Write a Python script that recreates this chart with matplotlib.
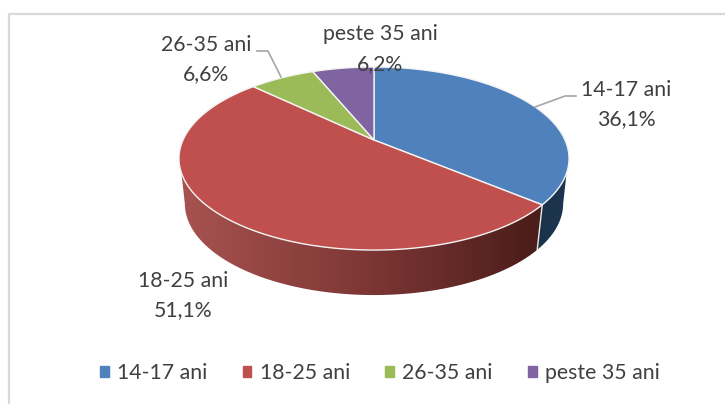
import matplotlib
matplotlib.use('Agg')
import matplotlib.pyplot as plt
import matplotlib.patches as mpatches
from matplotlib.colors import LinearSegmentedColormap
import numpy as np

categories = ['14-17 ani', '18-25 ani', '26-35 ani', 'peste 35 ani']
values = [36.1, 51.1, 6.6, 6.2]
value_labels = ['36,1%', '51,1%', '6,6%', '6,2%']
colors = ['#4F81BD', '#C0504D', '#9BBB59', '#8064A2']

plt.rcParams['font.family'] = ['Lato', 'DejaVu Sans']
TEXT = '#404040'
LEADER = '#A6A6A6'
FS = 15.3

# perspective of the disc, in pixels
CX, CY = 374, 140
W, H, K = 191, 87.8, 0.2022
DEPTH = 45
SHRINK = 0.97


def top_point(theta):
    u, v = np.sin(theta), np.cos(theta)
    d = 1 + K * v
    return CX + W * u / d, CY - H * v / d


def bottom_point(theta):
    x, y = top_point(theta)
    return CX + (x - CX) * SHRINK, y + DEPTH


fig = plt.figure(figsize=(7.25, 4.04), dpi=100)
ax = fig.add_axes([0, 0, 1, 1])
ax.set_xlim(0, 725)
ax.set_ylim(404, 0)
ax.axis('off')

# chart frame, right and bottom are cut off in the source
ax.plot([9, 9, 725], [404, 14, 14], color='#D9D9D9', lw=1.6, zorder=1)

edges = np.cumsum([0] + values) / sum(values) * 2 * np.pi
# where the wall leaves the top rim and where the lower rim is widest
RIM_R, RIM_L = np.radians(110.4), np.radians(249.6)
TAN_R, TAN_L = np.radians(101.7), np.radians(258.3)


def wall(a0, a1, b0, b1, cmap_colors, x0, x1):
    xt, yt = top_point(np.linspace(a0, a1, 200))
    xb, yb = bottom_point(np.linspace(b0, b1, 200))
    pts = np.vstack([np.column_stack([xt, yt]), np.column_stack([xb, yb])[::-1]])
    poly = mpatches.Polygon(pts, closed=True, fc='none', ec='none')
    ax.add_patch(poly)
    cmap = LinearSegmentedColormap.from_list('w', cmap_colors)
    im = ax.imshow(np.linspace(0, 1, 256)[None, :], cmap=cmap, extent=[x0, x1, 300, 150],
                   aspect='auto', zorder=2)
    im.set_clip_path(poly)


# side walls, only the visible front part
wall(RIM_R, edges[1], TAN_R, edges[1], ['#1B3149', '#1D3652'], 535, 570)
wall(edges[1], RIM_L, edges[1], TAN_L, ['#A85350', '#7F3836', '#4A1C19'], 178, 542)
ax.set_xlim(0, 725)
ax.set_ylim(404, 0)
ax.plot(*np.array([top_point(edges[1]), bottom_point(edges[1])]).T, color='#E8E8E8', lw=1, zorder=3)

# top of the pie
for i in range(len(values)):
    xs, ys = top_point(np.linspace(edges[i], edges[i + 1], 120))
    ax.fill(np.r_[CX, xs], np.r_[CY, ys], fc=colors[i], ec='#F4F4F4', lw=1, zorder=4)

# data labels
label_xy = [(626, 90, 119), (183, 281, 310), (206, 45, 74), (380, 34, 64)]
for name, val, (x, y1, y2) in zip(categories, value_labels, label_xy):
    ax.text(x, y1, name, ha='center', va='center', fontsize=FS, color=TEXT, zorder=6)
    ax.text(x, y2, val, ha='center', va='center', fontsize=FS, color=TEXT, zorder=6)

# leader lines
ax.plot([535, 565, 576], [107, 96, 96], color=LEADER, lw=1.2, zorder=5)
ax.plot([257, 268, 281], [51, 51, 77], color=LEADER, lw=1.2, zorder=5)

handles = [mpatches.Patch(color=c, label=n) for c, n in zip(colors, categories)]
ax.legend(handles=handles, loc='center', bbox_to_anchor=(380 / 725, 1 - 373 / 404), ncol=4,
          frameon=False, fontsize=FS, labelcolor=TEXT, handlelength=0.4, handleheight=0.4,
          handletextpad=0.4, columnspacing=1.66)

fig.savefig('out.png', dpi=100)
